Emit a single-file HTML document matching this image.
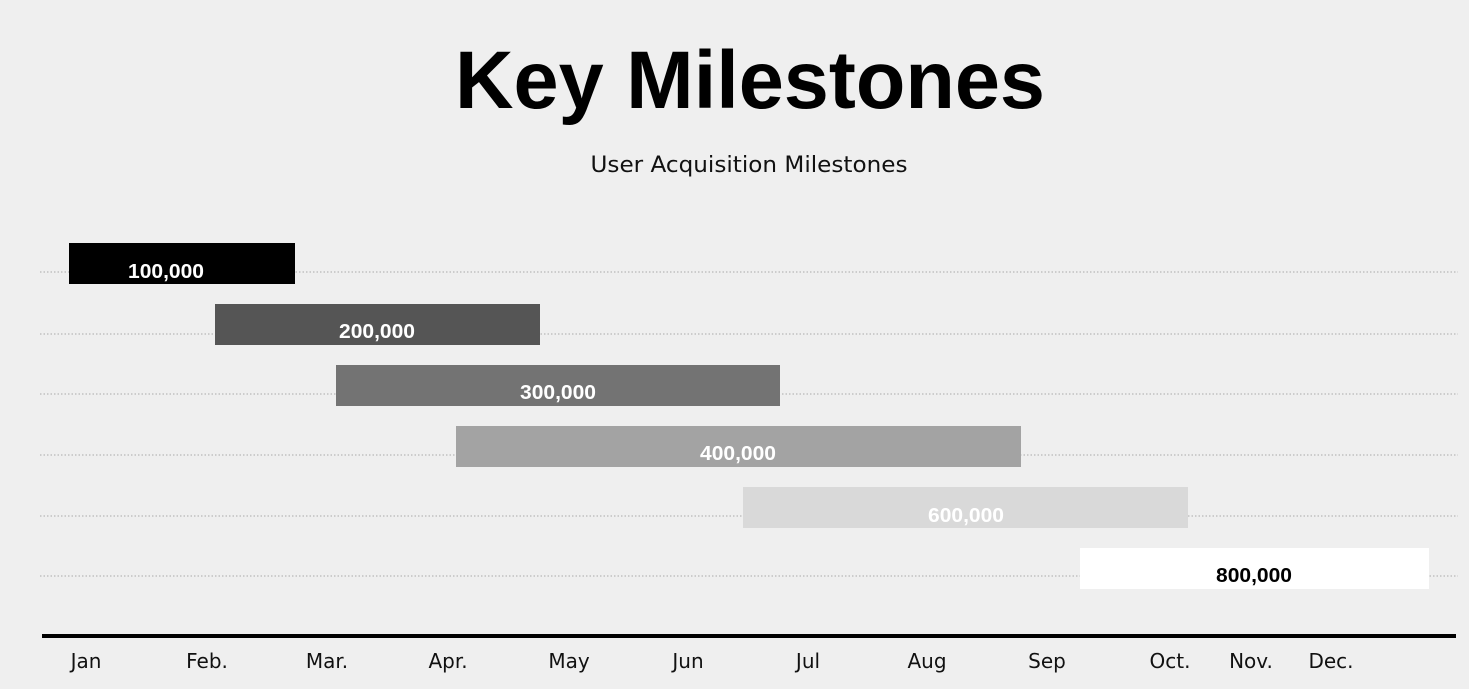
<!DOCTYPE html>
<html><head><meta charset="utf-8"><style>
html,body{margin:0;padding:0;background:#efefef;}
svg{display:block;}
</style></head><body>
<svg width="1469" height="689" viewBox="0 0 1469 689" xmlns="http://www.w3.org/2000/svg">
<rect width="1469" height="689" fill="#efefef"/>
<text x="750" y="108" text-anchor="middle" font-family="Liberation Sans, sans-serif" font-weight="bold" font-size="82" textLength="590" lengthAdjust="spacingAndGlyphs" fill="#000">Key Milestones</text>
<text x="749" y="172" text-anchor="middle" font-family="DejaVu Sans, sans-serif" font-size="22" textLength="317" lengthAdjust="spacingAndGlyphs" fill="#111">User Acquisition Milestones</text>
<g stroke="#aaa" stroke-width="1" stroke-dasharray="1.5,2">
<line x1="40" y1="272" x2="1458" y2="272"/>
<line x1="40" y1="334" x2="1458" y2="334"/>
<line x1="40" y1="394" x2="1458" y2="394"/>
<line x1="40" y1="455" x2="1458" y2="455"/>
<line x1="40" y1="516" x2="1458" y2="516"/>
<line x1="40" y1="576" x2="1458" y2="576"/>
</g>
<rect x="69" y="243" width="226" height="41" fill="#000"/>
<rect x="215" y="304" width="325" height="41" fill="#555"/>
<rect x="336" y="365" width="444" height="41" fill="#737373"/>
<rect x="456" y="426" width="565" height="41" fill="#a3a3a3"/>
<rect x="743" y="487" width="445" height="41" fill="#d9d9d9"/>
<rect x="1080" y="548" width="349" height="41" fill="#fff"/>
<g font-family="Liberation Sans, sans-serif" font-weight="bold" font-size="20" text-anchor="middle">
<text x="166" y="278" fill="#fff" textLength="76" lengthAdjust="spacingAndGlyphs">100,000</text>
<text x="377" y="338" fill="#fff" textLength="76" lengthAdjust="spacingAndGlyphs">200,000</text>
<text x="558" y="399" fill="#fff" textLength="76" lengthAdjust="spacingAndGlyphs">300,000</text>
<text x="738" y="460" fill="#fff" textLength="76" lengthAdjust="spacingAndGlyphs">400,000</text>
<text x="966" y="522" fill="#fff" textLength="76" lengthAdjust="spacingAndGlyphs">600,000</text>
<text x="1254" y="582" fill="#000" textLength="76" lengthAdjust="spacingAndGlyphs">800,000</text>
</g>
<rect x="42" y="634" width="1414" height="4" fill="#000"/>
<g font-family="DejaVu Sans, sans-serif" font-size="20" text-anchor="middle" fill="#111">
<text x="86" y="668">Jan</text>
<text x="207" y="668">Feb.</text>
<text x="327" y="668">Mar.</text>
<text x="448" y="668">Apr.</text>
<text x="569" y="668">May</text>
<text x="688" y="668">Jun</text>
<text x="808" y="668">Jul</text>
<text x="927" y="668">Aug</text>
<text x="1047" y="668">Sep</text>
<text x="1170" y="668">Oct.</text>
<text x="1251" y="668">Nov.</text>
<text x="1331" y="668">Dec.</text>
</g>
</svg>
</body></html>
